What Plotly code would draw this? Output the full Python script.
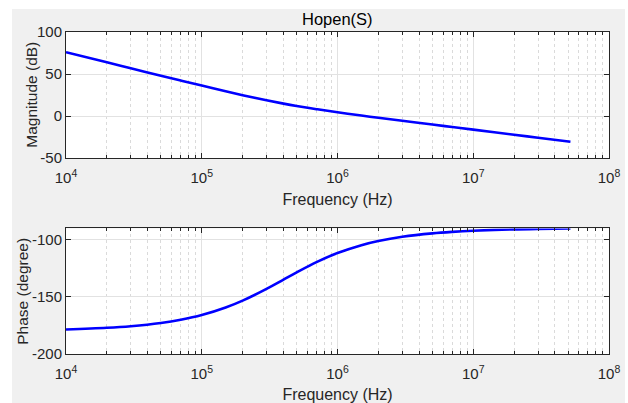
import plotly.graph_objects as go
from plotly.subplots import make_subplots

freq_hz = [1e4, 2e4, 3e4, 5e4, 7e4, 1e5, 1.5e5, 2e5, 3e5, 4e5, 5e5, 7e5,
           1e6, 1.5e6, 2e6, 3e6, 5e6, 7e6, 1e7, 2e7, 3e7, 5.2e7]
magnitude_db = [76.0, 64.0, 56.9, 48.1, 42.3, 36.3, 29.5, 24.9, 18.9, 14.9, 12.1, 8.3,
                4.6, 0.7, -1.9, -5.5, -10.0, -12.9, -16.0, -22.1, -25.6, -30.4]
phase_deg = [-178.6, -177.1, -175.7, -172.9, -170.1, -166.0, -159.4, -153.4, -143.1, -135.0,
             -128.7, -119.7, -111.8, -104.9, -101.3, -97.6, -94.6, -93.3, -92.3, -91.1,
             -90.8, -90.4]

x_tickvals = [1e4, 1e5, 1e6, 1e7, 1e8]
x_ticktext = ["10<sup>4</sup>", "10<sup>5</sup>", "10<sup>6</sup>", "10<sup>7</sup>", "10<sup>8</sup>"]
mag_tickvals = [-50, 0, 50, 100]
mag_ticktext = ["-50", "0", "50", "100"]
phase_tickvals = [-200, -150, -100]
phase_ticktext = ["-200", "-150", "-100"]

title_text = "Hopen(S)"
xlabel = "Frequency (Hz)"
mag_label = "Magnitude (dB)"
phase_label = "Phase (degree)"

fig = make_subplots(rows=2, cols=1, vertical_spacing=0.0)

fig.add_trace(go.Scatter(x=freq_hz, y=magnitude_db, mode="lines",
                         line=dict(color="#0000ff", width=2.6, shape="spline"),
                         showlegend=False, hoverinfo="skip"), row=1, col=1)
fig.add_trace(go.Scatter(x=freq_hz, y=phase_deg, mode="lines",
                         line=dict(color="#0000ff", width=2.6, shape="spline"),
                         showlegend=False, hoverinfo="skip"), row=2, col=1)

axis_color = "#262626"
family = "Liberation Sans, Arial, sans-serif"
tick_font = dict(family=family, size=15, color="#262626")
label_font = dict(family=family, size=16, color="#262626")
ylabel_font = dict(family=family, size=15.5, color="#262626")

xcommon = dict(type="log", range=[4, 8], tickmode="array", tickvals=x_tickvals,
               ticktext=x_ticktext, showline=True, linecolor=axis_color, linewidth=1,
               mirror="allticks", ticks="inside", ticklen=5, tickcolor=axis_color,
               showgrid=True, gridcolor="#e2e2e2", gridwidth=1, zeroline=False,
               ticklabeloverflow="allow", ticklabelstandoff=6, automargin=False,
               minor=dict(dtick="D1", ticks="inside", ticklen=3, tickcolor=axis_color,
                          showgrid=True, gridcolor="#dadada", griddash="dot", gridwidth=1),
               title=dict(text=xlabel, font=label_font, standoff=8),
               tickfont=tick_font)
ycommon = dict(showline=True, linecolor=axis_color, linewidth=1, mirror="allticks",
               ticks="inside", ticklen=5, tickcolor=axis_color, showgrid=True,
               gridcolor="#e2e2e2", gridwidth=1, zeroline=False, tickmode="array",
               automargin=False, tickfont=tick_font)

fig.update_xaxes(**xcommon, row=1, col=1)
fig.update_xaxes(**xcommon, row=2, col=1)
fig.update_yaxes(**ycommon, range=[-50, 100], tickvals=mag_tickvals, ticktext=mag_ticktext,
                 row=1, col=1)
fig.update_yaxes(**ycommon, range=[-200, -90.3], tickvals=phase_tickvals, ticktext=phase_ticktext,
                 row=2, col=1)

fig.update_layout(
    width=628, height=403,
    margin=dict(l=66, r=19, t=32, b=49),
    paper_bgcolor="white", plot_bgcolor="white",
    font=tick_font,
    xaxis=dict(domain=[0, 1]), yaxis=dict(domain=[0.608, 1.0]),
    xaxis2=dict(domain=[0, 1]), yaxis2=dict(domain=[0, 0.39]),
    annotations=[
        dict(text=title_text, x=0.5, y=1.0, xref="paper", yref="paper",
             xanchor="center", yanchor="bottom", yshift=2, showarrow=False,
             font=dict(family=family, size=16.5, color="black")),
        dict(text=mag_label, x=-0.064, y=0.806, xref="paper", yref="paper",
             xanchor="center", yanchor="middle", textangle=-90, showarrow=False,
             font=ylabel_font),
        dict(text=phase_label, x=-0.08, y=0.195, xref="paper", yref="paper",
             xanchor="center", yanchor="middle", textangle=-90, showarrow=False,
             font=ylabel_font),
    ],
    shapes=[
        dict(type="rect", xref="paper", yref="paper", x0=-0.0994, x1=1.0295,
             y0=-0.3, y1=1.0714, fillcolor="#f0f0f0", line=dict(width=0), layer="below"),
        dict(type="rect", xref="x domain", yref="y domain", x0=0, x1=1, y0=0, y1=1,
             fillcolor="white", line=dict(width=0), layer="below"),
        dict(type="rect", xref="x2 domain", yref="y2 domain", x0=0, x1=1, y0=0, y1=1,
             fillcolor="white", line=dict(width=0), layer="below"),
    ],
)

fig.write_html("out.html", config={"displayModeBar": False},
               post_script="document.body.style.margin='0';document.body.style.overflow='hidden';")
